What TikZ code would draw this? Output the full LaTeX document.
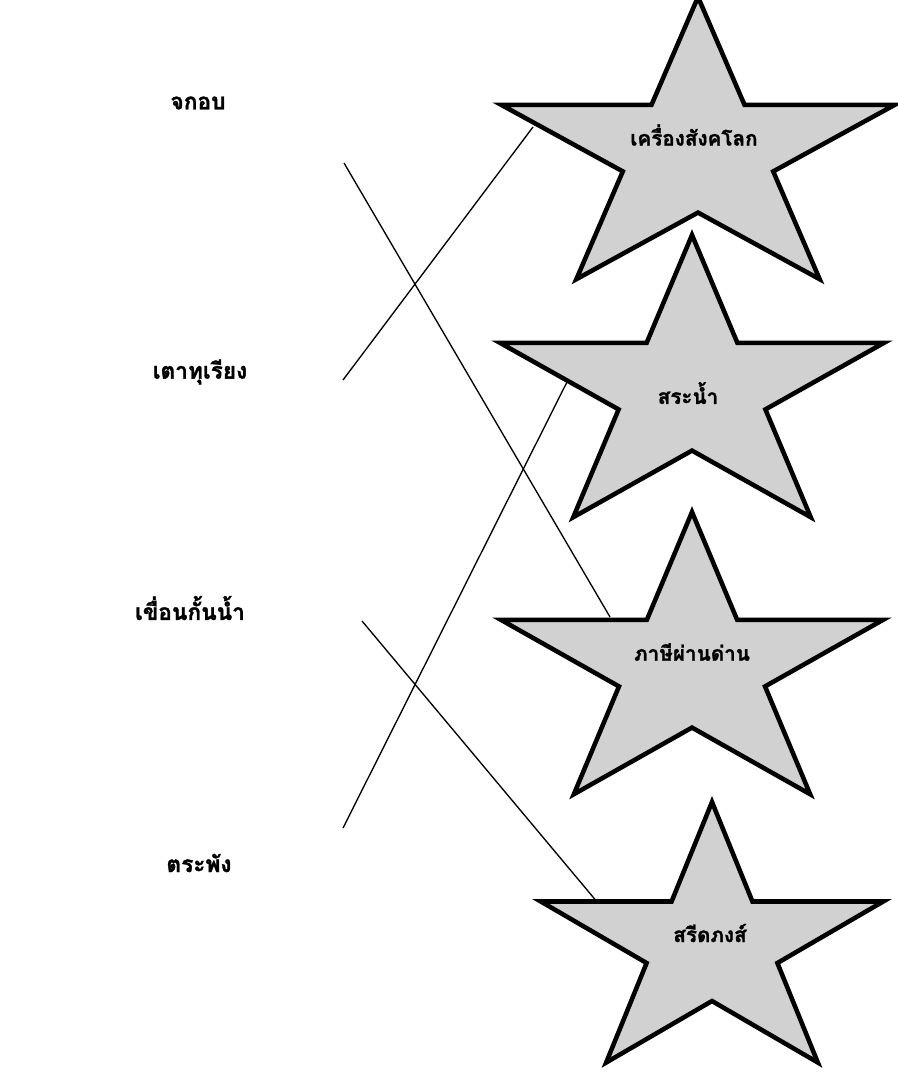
\documentclass[tikz,border=0pt]{standalone}
\usepackage{fontspec}
\newfontfamily\thaifont[Script=Thai, BoldFeatures={FakeBold=1.3}]{Loma}
\definecolor{starfill}{gray}{0.82}
\tikzset{
  starline/.style={draw=black, line width=3.4pt, fill=starfill, line join=miter},
  link/.style={draw=black, line width=1pt},
  lefttext/.style={font=\thaifont\bfseries\fontsize{17}{20}\selectfont, inner sep=0pt},
  startext/.style={font=\thaifont\bfseries\fontsize{15.5}{18}\selectfont, inner sep=0pt},
}
\newcommand{\mystar}[4]{%
  \begin{scope}[shift={(#1,#2)}, xscale=#3, yscale=-#4]
    \path[starline] (90:1) -- (126:0.382) -- (162:1) -- (198:0.382) -- (234:1)
      -- (270:0.382) -- (306:1) -- (342:0.382) -- (18:1) -- (54:0.382) -- cycle;
  \end{scope}}
\begin{document}
\begin{tikzpicture}[x=0.75pt, y=-0.75pt]
\useasboundingbox (0,0) rectangle (897,1080);
\fill[white] (0,0) rectangle (897,1080);
% stars
\mystar{698}{153}{207}{156}
\mystar{692}{391}{202}{156}
\mystar{692}{668}{201}{156}
\mystar{712}{946}{180}{144}
\node[startext] (s1) at (694,135) {เครื่องสังคโลก};
\node[startext] (s2) at (688,393) {สระน้ำ};
\node[startext] (s3) at (692,652) {ภาษีผ่านด่าน};
\node[startext] (s4) at (710,933) {สรีดภงส์};
% left labels
\node[lefttext] (l1) at (198,103) {จกอบ};
\node[lefttext] (l2) at (200,372) {เตาทุเรียง};
\node[lefttext] (l3) at (190,608) {เขื่อนกั้นน้ำ};
\node[lefttext] (l4) at (199,863) {ตระพัง};
% connector ends
\coordinate (a1) at (344,163);
\coordinate (a2) at (343,380);
\coordinate (a3) at (362,621);
\coordinate (a4) at (343,828);
\coordinate (e1) at (610,617);
\coordinate (e2) at (533,127);
\coordinate (e3) at (598,903);
\coordinate (e4) at (567,382);
\draw[link] (a1) -- (e1);
\draw[link] (a2) -- (e2);
\draw[link] (a3) -- (e3);
\draw[link] (a4) -- (e4);
\end{tikzpicture}
\end{document}
